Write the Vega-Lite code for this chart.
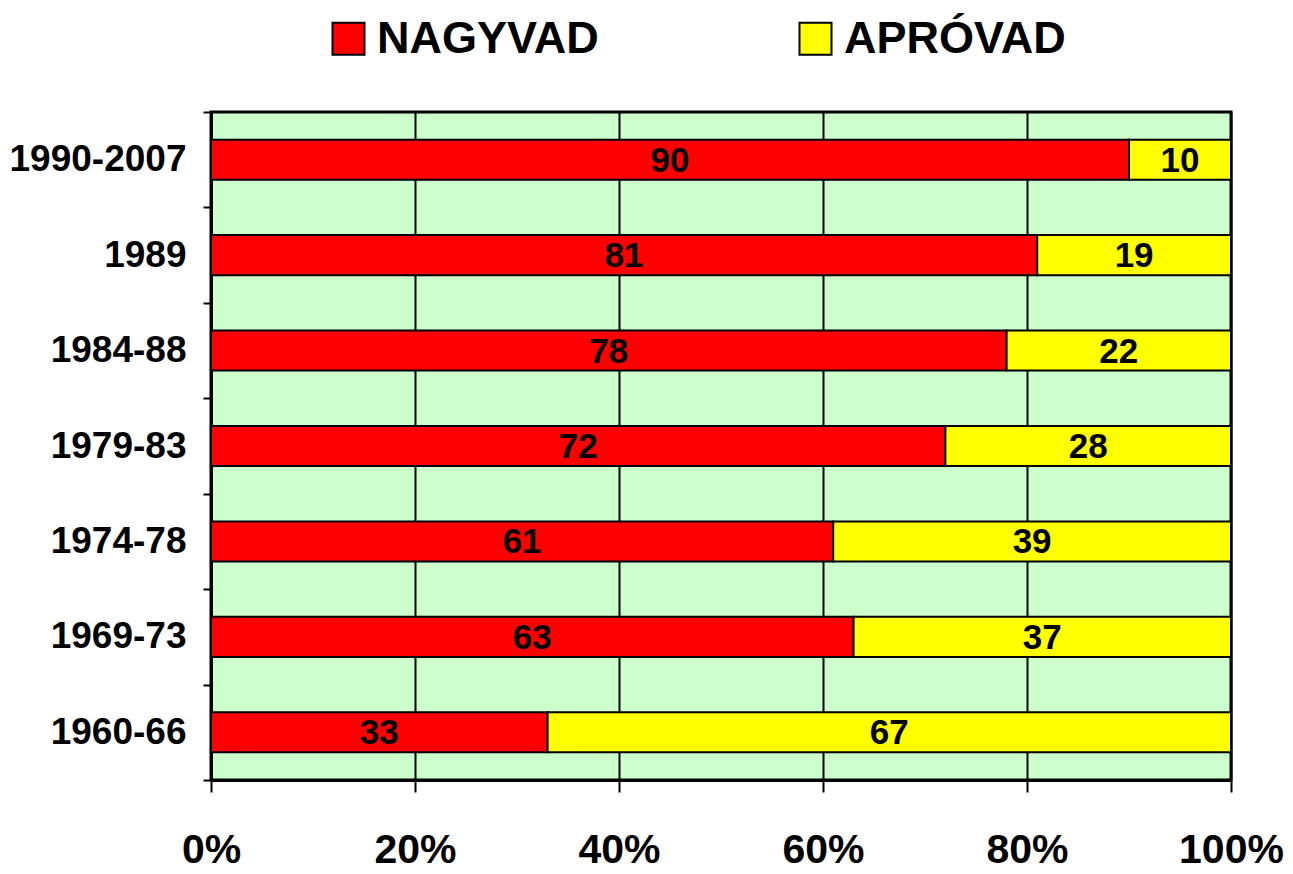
{
  "$schema": "https://vega.github.io/schema/vega-lite/v6.json",
  "autosize": {"type": "none"},
  "width": 1020,
  "height": 668,
  "padding": {"left": 211, "top": 112, "right": 62, "bottom": 94},
  "background": "white",
  "config": {
    "font": "Liberation Sans, Arial, sans-serif",
    "view": {"fill": "#CCFFCC", "stroke": "black", "strokeWidth": 3}
  },
  "data": {
    "values": [
      {"period": "1990-2007", "type": "NAGYVAD", "ord": 1, "value": 90},
      {"period": "1990-2007", "type": "APRÓVAD", "ord": 2, "value": 10},
      {"period": "1989", "type": "NAGYVAD", "ord": 1, "value": 81},
      {"period": "1989", "type": "APRÓVAD", "ord": 2, "value": 19},
      {"period": "1984-88", "type": "NAGYVAD", "ord": 1, "value": 78},
      {"period": "1984-88", "type": "APRÓVAD", "ord": 2, "value": 22},
      {"period": "1979-83", "type": "NAGYVAD", "ord": 1, "value": 72},
      {"period": "1979-83", "type": "APRÓVAD", "ord": 2, "value": 28},
      {"period": "1974-78", "type": "NAGYVAD", "ord": 1, "value": 61},
      {"period": "1974-78", "type": "APRÓVAD", "ord": 2, "value": 39},
      {"period": "1969-73", "type": "NAGYVAD", "ord": 1, "value": 63},
      {"period": "1969-73", "type": "APRÓVAD", "ord": 2, "value": 37},
      {"period": "1960-66", "type": "NAGYVAD", "ord": 1, "value": 33},
      {"period": "1960-66", "type": "APRÓVAD", "ord": 2, "value": 67}
    ]
  },
  "encoding": {
    "y": {
      "field": "period",
      "type": "nominal",
      "sort": ["1990-2007", "1989", "1984-88", "1979-83", "1974-78", "1969-73", "1960-66"],
      "scale": {"paddingInner": 0, "paddingOuter": 0},
      "axis": {
        "title": null,
        "tickBand": "extent",
        "domainColor": "black",
        "domainWidth": 3,
        "tickColor": "black",
        "tickWidth": 2,
        "tickSize": 8,
        "labelFontSize": 37,
        "labelFontWeight": "bold",
        "labelColor": "black",
        "labelPadding": 17,
        "labelLimit": 300
      }
    },
    "x": {
      "field": "value",
      "type": "quantitative",
      "stack": "zero",
      "scale": {"domain": [0, 100]},
      "axis": {
        "title": null,
        "values": [0, 20, 40, 60, 80, 100],
        "labelExpr": "datum.value + '%'",
        "grid": true,
        "gridColor": "black",
        "gridWidth": 2,
        "gridOpacity": 1,
        "domainColor": "black",
        "domainWidth": 3,
        "tickColor": "black",
        "tickWidth": 2,
        "tickSize": 12,
        "labelFontSize": 41,
        "labelFontWeight": "bold",
        "labelColor": "black",
        "labelPadding": 38,
        "labelFlush": false
      }
    },
    "order": {"field": "ord", "type": "quantitative"}
  },
  "layer": [
    {
      "mark": {"type": "bar", "stroke": "black", "strokeWidth": 2, "height": {"band": 0.42}},
      "encoding": {
        "color": {
          "field": "type",
          "type": "nominal",
          "sort": ["NAGYVAD", "APRÓVAD"],
          "scale": {"domain": ["NAGYVAD", "APRÓVAD"], "range": ["#FF0000", "#FFFF00"]},
          "legend": {
            "title": null,
            "orient": "none",
            "legendX": 115,
            "legendY": -96,
            "direction": "horizontal",
            "symbolType": "square",
            "symbolSize": 1024,
            "symbolStrokeColor": "black",
            "symbolStrokeWidth": 2,
            "symbolOpacity": 1,
            "labelFontSize": 45,
            "labelFontWeight": "bold",
            "labelColor": "black",
            "labelOffset": 6,
            "columnPadding": 194,
            "labelLimit": 400
          }
        }
      }
    },
    {
      "mark": {"type": "text", "fontSize": 35, "fontWeight": "bold", "color": "black", "baseline": "middle", "align": "center", "dy": 1},
      "encoding": {
        "x": {"field": "value", "type": "quantitative", "stack": "zero", "bandPosition": 0.5},
        "text": {"field": "value", "type": "quantitative"}
      }
    }
  ]
}
